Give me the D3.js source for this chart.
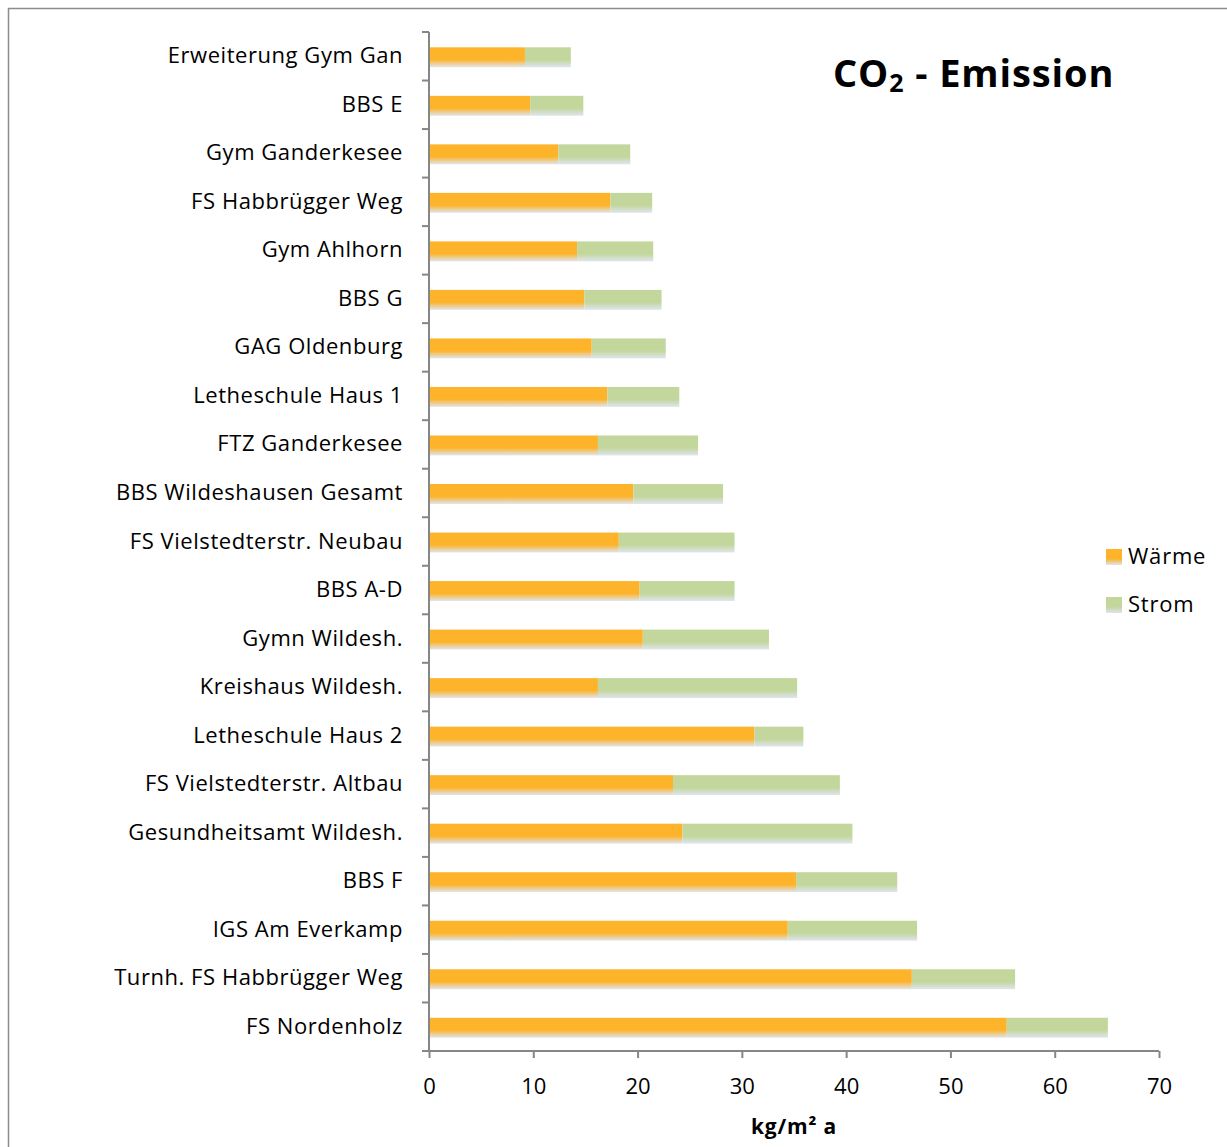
<!DOCTYPE html>
<html>
<head>
<meta charset="utf-8">
<script src="https://cdn.jsdelivr.net/npm/d3@7"></script>
<style>
    body { margin: 0; background: #fff; }
    svg { font-family: "Open Sans", Lato, sans-serif; }
</style>
</head>
<body>
<div id="chart"></div>
<script>
// CO2 emission per building, stacked horizontal bars

const categories = [
    'Erweiterung Gym Gan', 'BBS E', 'Gym Ganderkesee', 'FS Habbrügger Weg',
    'Gym Ahlhorn', 'BBS G', 'GAG Oldenburg', 'Letheschule Haus 1',
    'FTZ Ganderkesee', 'BBS Wildeshausen Gesamt', 'FS Vielstedterstr. Neubau',
    'BBS A-D', 'Gymn Wildesh.', 'Kreishaus Wildesh.', 'Letheschule Haus 2',
    'FS Vielstedterstr. Altbau', 'Gesundheitsamt Wildesh.', 'BBS F',
    'IGS Am Everkamp', 'Turnh. FS Habbrügger Weg', 'FS Nordenholz'
];
const waerme = [9.2, 9.7, 12.4, 17.4, 14.2, 14.9, 15.6, 17.1, 16.2, 19.6, 18.2,
    20.2, 20.5, 16.2, 31.2, 23.4, 24.3, 35.2, 34.4, 46.3, 55.4];
const strom = [4.4, 5.1, 6.9, 4.0, 7.3, 7.4, 7.1, 6.9, 9.6, 8.6, 11.1,
    9.1, 12.1, 19.1, 4.7, 16.0, 16.3, 9.7, 12.4, 9.9, 9.7];
const seriesNames = ['Wärme', 'Strom'];
const xTicks = [0, 10, 20, 30, 40, 50, 60, 70];

const width = 1227;
const height = 1147;
const margin = { top: 32, left: 429 };

const svg = d3.select('#chart')
    .append('svg')
    .attr('width', width)
    .attr('height', height);

// Outer chart border
svg.append('rect')
    .attr('x', 8.5).attr('y', 8.5)
    .attr('width', width).attr('height', height)
    .attr('fill', 'none')
    .attr('stroke', '#8c8c8c')
    .attr('stroke-width', 1.5);

// Gradients (solid top, light fade at the bottom edge)
const defs = svg.append('defs');
const colors = { 'Wärme': '#fdb32a', 'Strom': '#c3d69b' };
seriesNames.forEach((name, i) => {
    const grad = defs.append('linearGradient')
        .attr('id', 'grad-' + i)
        .attr('x1', 0).attr('y1', 0)
        .attr('x2', 0).attr('y2', 1);
    grad.append('stop').attr('offset', '0%').attr('stop-color', colors[name]);
    grad.append('stop').attr('offset', '62%').attr('stop-color', colors[name]);
    grad.append('stop').attr('offset', '100%').attr('stop-color', '#dfe5ee');
});

const plotWidth = 730;
const plotHeight = 1019;

const g = svg.append('g')
    .attr('transform', `translate(${margin.left},${margin.top})`);

const xScale = d3.scaleLinear()
    .domain([0, 70])
    .range([0, plotWidth]);

const yScale = d3.scaleBand()
    .domain(categories)
    .range([0, plotHeight])
    .paddingInner(0.59)
    .paddingOuter(0.295);

// Stack data
const rows = categories.map((c, i) => ({ name: c, 'Wärme': waerme[i], 'Strom': strom[i] }));
const stacked = d3.stack().keys(seriesNames)(rows);

g.selectAll('g.series')
    .data(stacked)
    .join('g')
    .attr('class', 'series')
    .attr('fill', (d, i) => `url(#grad-${i})`)
    .selectAll('rect')
    .data(d => d)
    .join('rect')
    .attr('x', d => xScale(d[0]))
    .attr('y', d => yScale(d.data.name) + 1)
    .attr('width', d => xScale(d[1]) - xScale(d[0]))
    .attr('height', yScale.bandwidth());

// Y axis: line + ticks at band boundaries
const axisColor = '#868686';
g.append('line')
    .attr('x1', 0).attr('x2', 0)
    .attr('y1', 0).attr('y2', plotHeight)
    .attr('stroke', axisColor).attr('stroke-width', 2);

const step = yScale.step();
g.selectAll('line.ytick')
    .data(d3.range(categories.length + 1))
    .join('line')
    .attr('class', 'ytick')
    .attr('x1', -7).attr('x2', 0)
    .attr('y1', i => i * step)
    .attr('y2', i => i * step)
    .attr('stroke', axisColor).attr('stroke-width', 2);

g.selectAll('text.ylabel')
    .data(categories)
    .join('text')
    .attr('class', 'ylabel')
    .attr('x', -26)
    .attr('y', d => yScale(d) + yScale.bandwidth() / 2 + 7)
    .attr('text-anchor', 'end')
    .attr('font-size', 22)
    .attr('letter-spacing', 0.55)
    .attr('fill', '#000')
    .text(d => d);

// X axis
const xAxis = g.append('g')
    .attr('transform', `translate(0,${plotHeight})`)
    .call(d3.axisBottom(xScale).tickValues(xTicks).tickSize(7).tickPadding(20));
xAxis.select('.domain')
    .attr('d', `M-7,0H${plotWidth}`)
    .attr('stroke', axisColor).attr('stroke-width', 2);
xAxis.selectAll('.tick line').attr('stroke', axisColor).attr('stroke-width', 2);
xAxis.selectAll('.tick text')
    .attr('font-size', 22)
    .attr('font-family', '"Open Sans", Lato, sans-serif')
    .attr('fill', '#000');

// Axis title
svg.append('text')
    .attr('x', 794)
    .attr('y', 1134)
    .attr('text-anchor', 'middle')
    .attr('font-size', 21)
    .attr('letter-spacing', 0.8)
    .attr('font-weight', 'bold')
    .text('kg/m² a');

// Chart title
const title = svg.append('text')
    .attr('x', 833)
    .attr('y', 87)
    .attr('font-size', 38)
    .attr('letter-spacing', 0.9)
    .attr('font-weight', 'bold');
title.append('tspan').text('CO');
title.append('tspan').attr('font-size', 25).attr('dy', 5).text('2');
title.append('tspan').attr('dy', -5).text(' - Emission');

// Legend
const legend = svg.append('g');
seriesNames.forEach((name, i) => {
    const ly = 549 + i * 48;
    legend.append('rect')
        .attr('x', 1106).attr('y', ly)
        .attr('width', 16).attr('height', 16)
        .attr('fill', `url(#grad-${i})`);
    legend.append('text')
        .attr('x', 1128).attr('y', ly + 15)
        .attr('font-size', 22)
        .attr('letter-spacing', 0.8)
        .text(name);
});
</script>
</body>
</html>
